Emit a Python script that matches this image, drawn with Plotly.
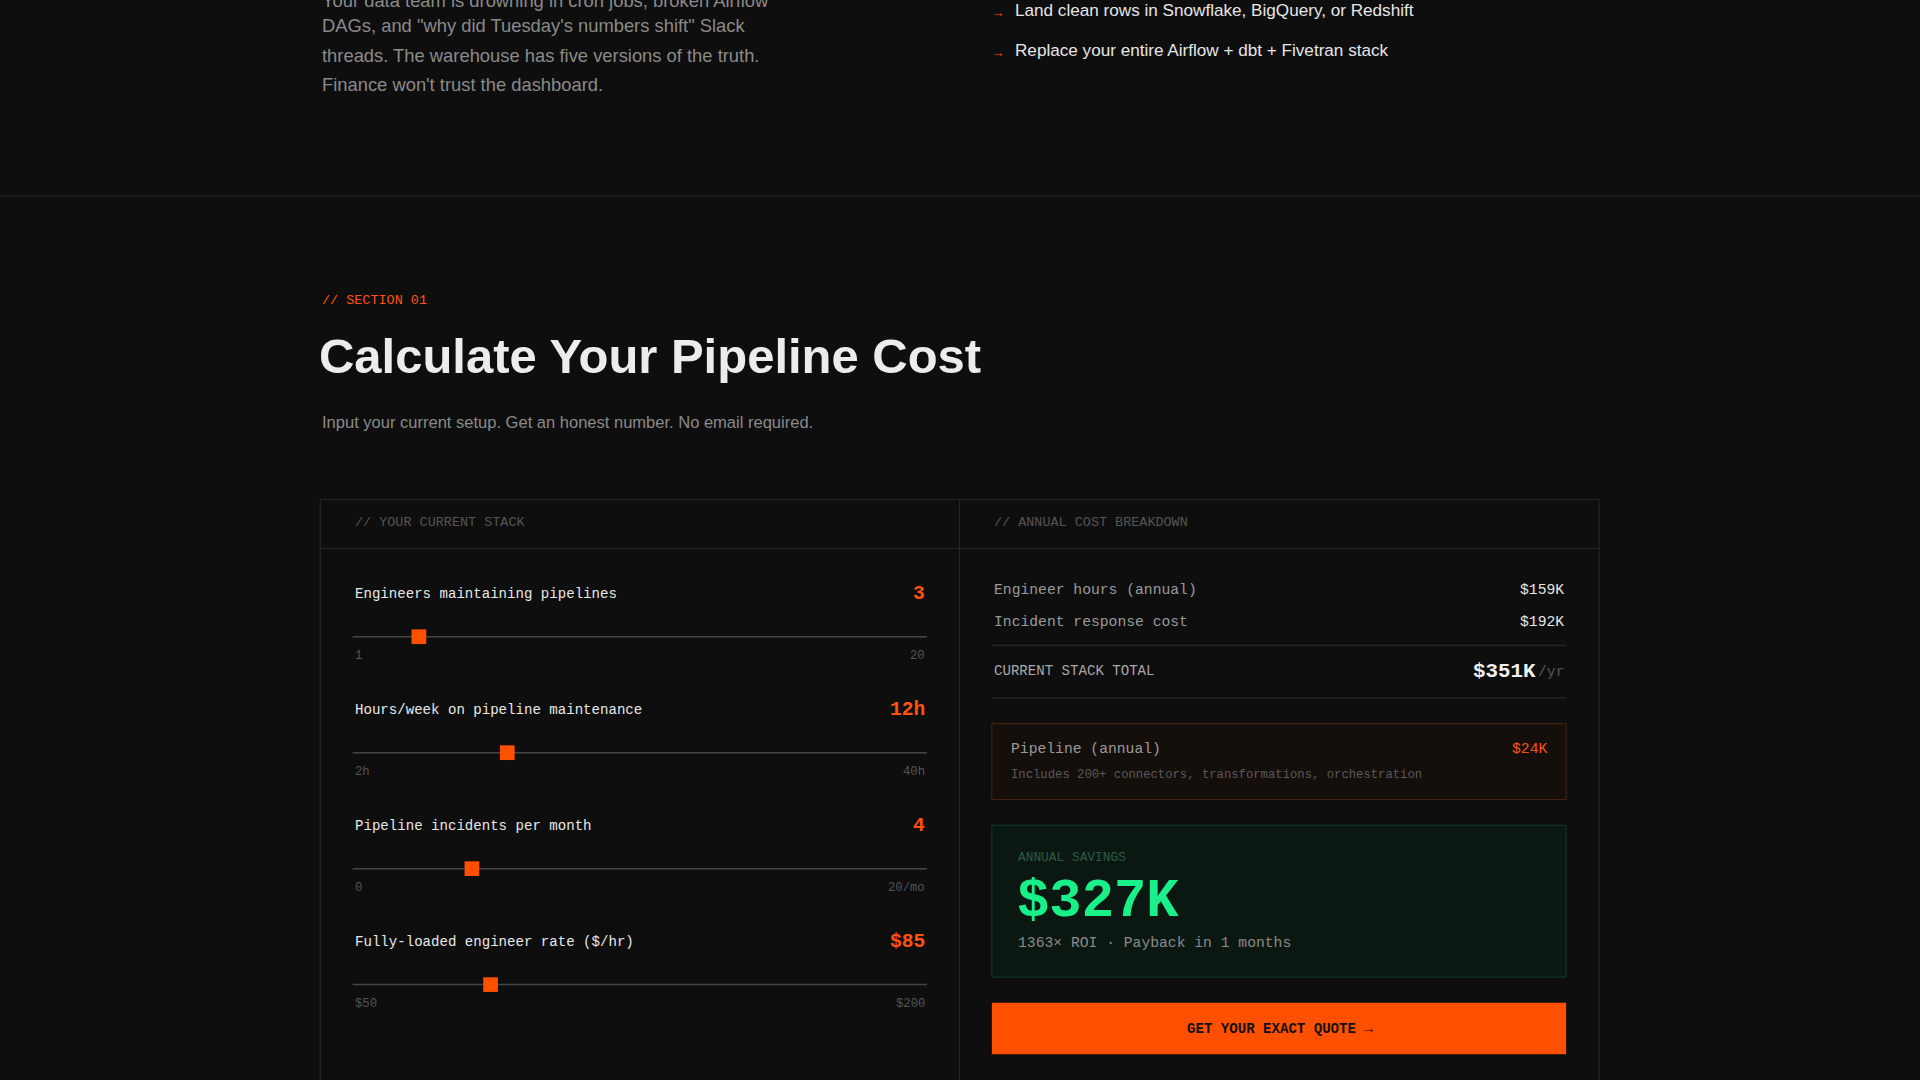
import plotly.graph_objects as go

# layout is drawn in reference-image pixels (1568 x 882), scaled to 1920 x 1080
W, H = 1568, 882
S = 1920 / W

ORANGE = "#ff5210"
MONO = "Liberation Mono, DejaVu Sans Mono, monospace"
SANS = "Liberation Sans, Arial, sans-serif"

intro_lines = [
    "Your data team is drowning in cron jobs, broken Airflow",
    "DAGs, and \"why did Tuesday's numbers shift\" Slack",
    "threads. The warehouse has five versions of the truth.",
    "Finance won't trust the dashboard.",
]
bullets = ["Land clean rows in Snowflake, BigQuery, or Redshift",
           "Replace your entire Airflow + dbt + Fivetran stack"]

slider_labels = ["Engineers maintaining pipelines", "Hours/week on pipeline maintenance",
                 "Pipeline incidents per month", "Fully-loaded engineer rate ($/hr)"]
slider_values = [3, 12, 4, 85]
slider_value_text = ["3", "12h", "4", "$85"]
slider_min = [1, 2, 0, 50]
slider_max = [20, 40, 20, 200]
slider_min_text = ["1", "2h", "0", "$50"]
slider_max_text = ["20", "40h", "20/mo", "$200"]

cost_rows = ["Engineer hours (annual)", "Incident response cost"]
cost_values = ["$159K", "$192K"]

fig = go.Figure()
shapes = []
ann = []


def text(x, y, t, size, color, font=MONO, anchor="left", bold=False):
    if bold:
        t = "<b>" + t + "</b>"
    ann.append(dict(x=x, y=y, text=t, showarrow=False, xanchor=anchor, yanchor="middle",
                    font=dict(family=font, size=size * S, color=color)))


def rect(x0, y0, x1, y1, line=None, fill=None, width=1):
    shapes.append(dict(type="rect", x0=x0, y0=y0, x1=x1, y1=y1, layer="below",
                       line=dict(color=line or "rgba(0,0,0,0)", width=width),
                       fillcolor=fill or "rgba(0,0,0,0)"))


def hline(x0, x1, y, color, width=1):
    shapes.append(dict(type="line", x0=x0, x1=x1, y0=y, y1=y, layer="below",
                       line=dict(color=color, width=width)))


# top section
for i, t in enumerate(intro_lines):
    text(261, max(-3 + 24 * i, 0), t, 15, "#8a8a8a", SANS)
for i, t in enumerate(bullets):
    text(808, 10 + 33 * i, "→", 11, ORANGE, SANS)
    text(827, 8 + 33 * i, t, 14, "#e6e6e6", SANS)
hline(0, W, 160, "#262626")

text(261, 245, "// SECTION 01", 11, ORANGE)
text(259, 291, "Calculate Your Pipeline Cost", 40, "#ececec", SANS, bold=True)
text(261, 345, "Input your current setup. Get an honest number. No email required.", 13.5, "#8a8a8a", SANS)

# panel
rect(261.5, 408, 1306, 900, line="#2a2a2a")
shapes.append(dict(type="line", x0=783.5, x1=783.5, y0=408, y1=900, line=dict(color="#2a2a2a", width=1)))
hline(261.5, 1306, 448, "#2a2a2a")
text(288, 427, "// YOUR CURRENT STACK", 11, "#555555")
text(810, 427, "// ANNUAL COST BREAKDOWN", 11, "#555555")

# sliders
hx, hy = [], []
for i in range(4):
    y0 = 485 + 94.7 * i
    text(288, y0, slider_labels[i], 11.5, "#e8e8e8")
    text(757, y0, slider_value_text[i], 16, ORANGE, anchor="right", bold=True)
    hline(288, 757, y0 + 35, "#444444", 1.5)
    text(288, y0 + 51, slider_min_text[i], 10, "#555555")
    text(757, y0 + 51, slider_max_text[i], 10, "#555555", anchor="right")
    frac = (slider_values[i] - slider_min[i]) / (slider_max[i] - slider_min[i])
    hx.append(294 + frac * (469 - 12))
    hy.append(y0 + 35)
fig.add_trace(go.Scatter(x=hx, y=hy, mode="markers", hoverinfo="skip",
                         marker=dict(symbol="square", size=12 * S, color="#ff4f00")))

# cost breakdown
for i, t in enumerate(cost_rows):
    text(810, 482 + 26 * i, t, 12, "#9a9a9a")
    text(1279, 482 + 26 * i, cost_values[i], 12, "#e8e8e8", anchor="right")
hline(810, 1279, 527, "#2e2e2e")
text(810, 548, "CURRENT STACK TOTAL", 11.5, "#a8a8a8")
text(1256, 548, "$351K", 17, "#f0f0f0", anchor="right", bold=True)
text(1279, 549, "/yr", 12, "#555555", anchor="right")
hline(810, 1279, 570, "#2e2e2e")

rect(810, 591, 1279, 653, line="#4a2315", fill="#150f0c")
text(824, 612, "Pipeline (annual)", 12, "#9a9a9a")
text(1265, 612, "$24K", 12, ORANGE, anchor="right")
text(824, 633, "Includes 200+ connectors, transformations, orchestration", 10, "#5a5a5a")

rect(810, 674, 1279, 798, line="#0f3d29", fill="#0b1812")
text(830, 700, "ANNUAL SAVINGS", 10.5, "#2f5a47")
text(829, 736, "$327K", 44, "#19f08a", bold=True)
text(830, 770, "1363× ROI · Payback in 1 months", 12, "#8a8a8a")

rect(810, 819, 1279, 861, fill="#ff4f00")
text(1045, 840, "GET YOUR EXACT QUOTE →", 11.5, "#111111", anchor="center", bold=True)

fig.update_layout(
    width=1920, height=1080, margin=dict(l=0, r=0, t=0, b=0),
    paper_bgcolor="#0e0e0e", plot_bgcolor="#0e0e0e", showlegend=False,
    shapes=shapes, annotations=ann,
    xaxis=dict(range=[0, W], visible=False, fixedrange=True),
    yaxis=dict(range=[H, 0], visible=False, fixedrange=True),
)
fig.write_html("out.html", config={"displayModeBar": False},
               post_script="document.body.style.margin='0';document.body.style.background='#0e0e0e';")
